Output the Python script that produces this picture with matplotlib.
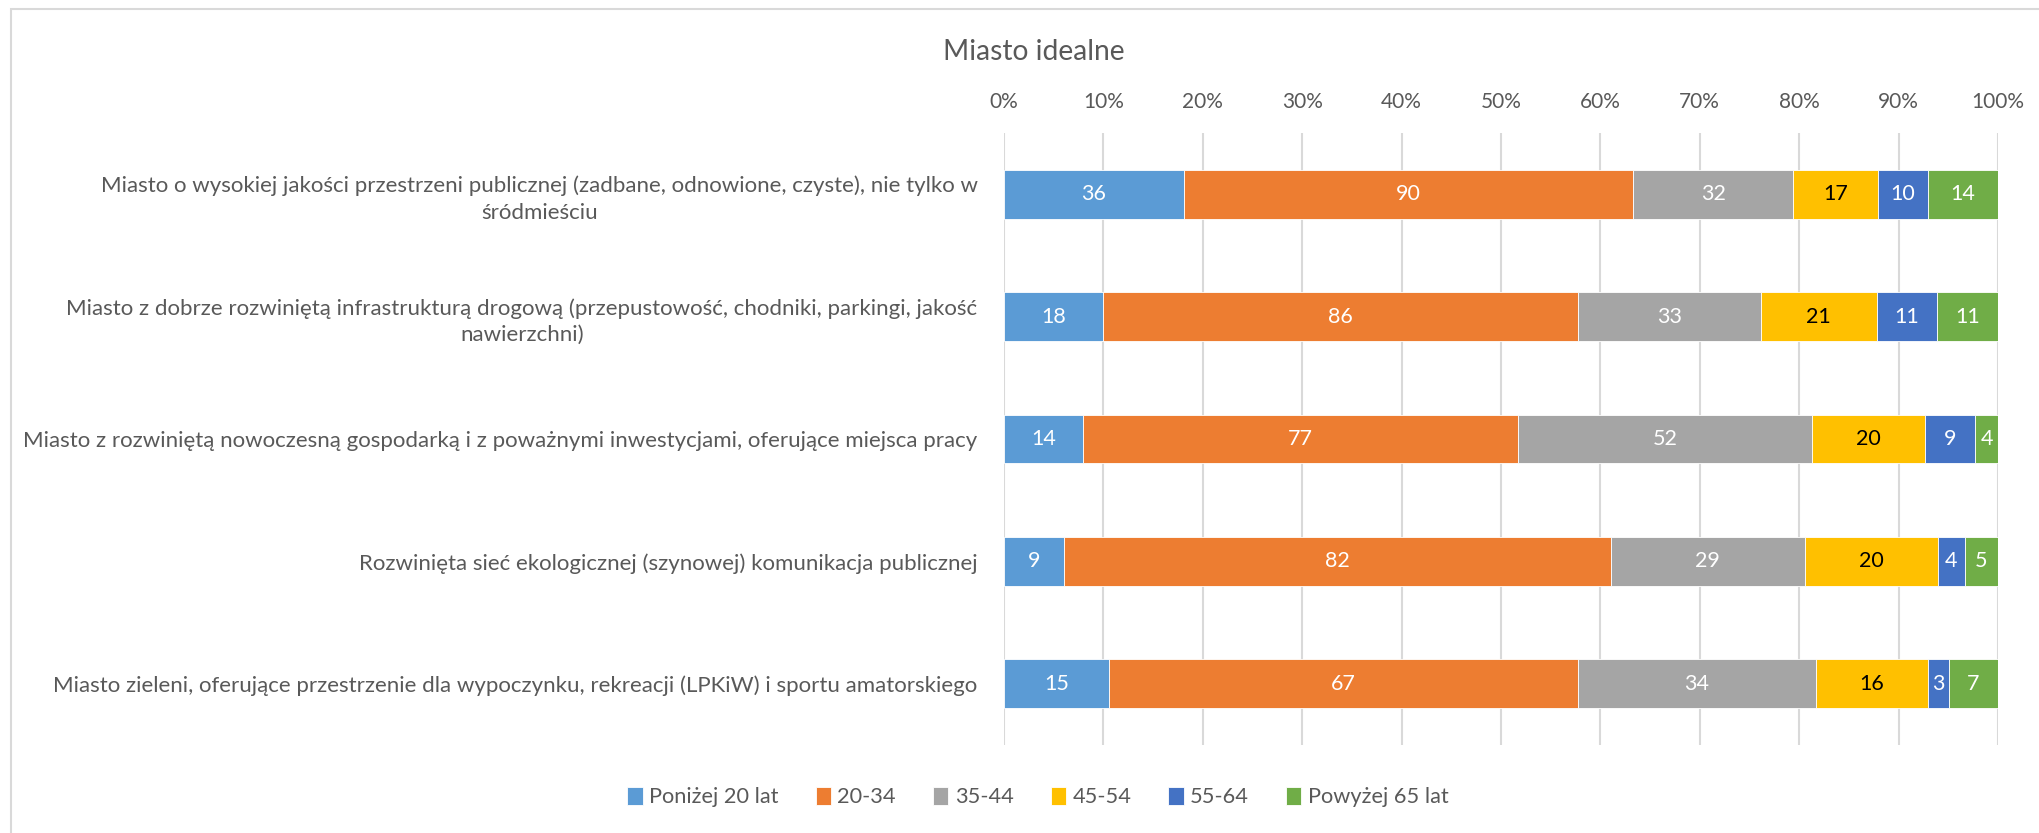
import matplotlib
matplotlib.use("Agg")
import matplotlib.pyplot as plt
from matplotlib.patches import Rectangle
import numpy as np

plt.rcParams['font.family'] = ['Lato', 'DejaVu Sans']

categories = [
    "Miasto o wysokiej jakości przestrzeni publicznej (zadbane, odnowione, czyste), nie tylko w\nśródmieściu",
    "Miasto z dobrze rozwiniętą infrastrukturą drogową (przepustowość, chodniki, parkingi, jakość\nnawierzchni)",
    "Miasto z rozwiniętą nowoczesną gospodarką i z poważnymi inwestycjami, oferujące miejsca pracy",
    "Rozwinięta sieć ekologicznej (szynowej) komunikacja publicznej",
    "Miasto zieleni, oferujące przestrzenie dla wypoczynku, rekreacji (LPKiW) i sportu amatorskiego",
]
series_names = ["Poniżej 20 lat", "20-34", "35-44", "45-54", "55-64", "Powyżej 65 lat"]
ponizej_20 = [36, 18, 14, 9, 15]
s_20_34 = [90, 86, 77, 82, 67]
s_35_44 = [32, 33, 52, 29, 34]
s_45_54 = [17, 21, 20, 20, 16]
s_55_64 = [10, 11, 9, 4, 3]
powyzej_65 = [14, 11, 4, 5, 7]
xtick_labels = ["0%", "10%", "20%", "30%", "40%", "50%", "60%", "70%", "80%", "90%", "100%"]

colors = ["#5B9BD5", "#ED7D31", "#A5A5A5", "#FFC000", "#4472C4", "#70AD47"]
label_colors = ["white", "white", "white", "black", "white", "white"]
text_gray = "#595959"

W, H = 2040, 833
fig = plt.figure(figsize=(W / 100, H / 100), dpi=100)
fig.patch.set_facecolor("white")

# outer chart border
fig.add_artist(Rectangle((11 / W, -0.1), 1.2, 1.1 - 9 / H, transform=fig.transFigure,
                         fill=False, edgecolor="#D9D9D9", linewidth=1.5))

left, right = 1004 / W, 1998 / W
top, bottom = 1 - 133 / H, 1 - 745 / H
ax = fig.add_axes([left, bottom, right - left, top - bottom])

data = np.array([ponizej_20, s_20_34, s_35_44, s_45_54, s_55_64, powyzej_65], dtype=float)
totals = data.sum(axis=0)
pct = data / totals * 100
y = np.arange(len(categories))
cum = np.zeros(len(categories))
for i, name in enumerate(series_names):
    bars = ax.barh(y, pct[i], left=cum, height=0.4, color=colors[i], label=name,
                   edgecolor="white", linewidth=0.6, zorder=3)
    for j, b in enumerate(bars):
        ax.text(cum[j] + pct[i][j] / 2, y[j], f"{int(data[i][j])}", ha="center", va="center",
                color=label_colors[i], fontsize=15.5, zorder=4)
    cum += pct[i]

ax.set_xlim(0, 100)
ax.set_ylim(len(categories) - 0.5, -0.5)
ax.set_xticks(np.arange(0, 101, 10))
ax.set_xticklabels(xtick_labels)
ax.xaxis.tick_top()
ax.tick_params(axis="x", length=0, pad=15, labelsize=15, labelcolor=text_gray)
ax.set_yticks(y)
ax.set_yticklabels(categories, multialignment="center", linespacing=1.4)
ax.tick_params(axis="y", length=0, pad=19, labelsize=16, labelcolor=text_gray)
ax.grid(axis="x", color="#D9D9D9", linewidth=1.5, zorder=0)
ax.set_axisbelow(True)
for s in ax.spines.values():
    s.set_visible(False)

fig.text(1034 / W, 1 - 52 / H, "Miasto idealne", ha="center", va="center",
         fontsize=20.3, color=text_gray)

handles, labels = ax.get_legend_handles_labels()
leg = fig.legend(handles, labels, loc="center", bbox_to_anchor=(1038 / W, 1 - 797 / H),
                 ncol=6, frameon=False, fontsize=15.7, handlelength=0.7, handleheight=0.9,
                 handletextpad=0.3, columnspacing=1.7, labelcolor=text_gray)

fig.savefig("out.png", dpi=100, facecolor="white")
